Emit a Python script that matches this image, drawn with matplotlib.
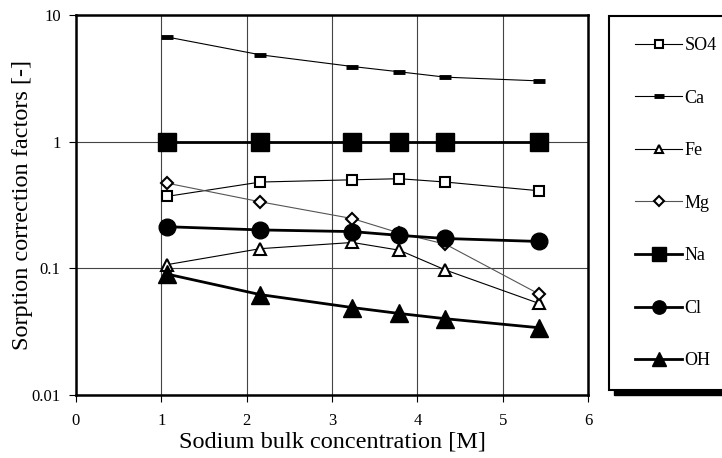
import matplotlib
matplotlib.use('Agg')
import matplotlib.pyplot as plt
from matplotlib.patches import Rectangle
from matplotlib.ticker import FixedLocator, NullLocator

plt.rcParams['font.family'] = 'Liberation Serif'

# data
conc = [1.07, 2.16, 3.24, 3.79, 4.33, 5.42]
so4 = [0.37, 0.48, 0.50, 0.51, 0.48, 0.41]
ca = [6.7, 4.85, 3.92, 3.56, 3.23, 3.02]
fe = [0.107, 0.143, 0.16, 0.139, 0.097, 0.053]
mg = [0.47, 0.335, 0.247, 0.19, 0.155, 0.063]
na = [1.0, 1.0, 1.0, 1.0, 1.0, 1.0]
cl = [0.213, 0.201, 0.195, 0.182, 0.172, 0.163]
oh = [0.09, 0.062, 0.049, 0.044, 0.040, 0.034]

fig = plt.figure(figsize=(7.22, 4.58), dpi=100)
ax = fig.add_axes([76/722, 1 - 395/458, 512/722, 380/458])

ax.plot(conc, so4, color='black', lw=0.8, marker='s', ms=7,
        mfc='white', mec='black', mew=1.5, label='SO4')
ax.plot(conc, ca, color='black', lw=0.8, marker='_', ms=9, mew=3.5,
        label='Ca')
ax.plot(conc, fe, color='black', lw=0.8, marker='^', ms=8,
        mfc='white', mec='black', mew=1.5, label='Fe')
ax.plot(conc, mg, color='#555555', lw=0.8, marker='D', ms=6,
        mfc='white', mec='black', mew=1.5, label='Mg')
ax.plot(conc, na, color='black', lw=2, marker='s', ms=13, label='Na')
ax.plot(conc, cl, color='black', lw=2, marker='o', ms=12, label='Cl')
ax.plot(conc, oh, color='black', lw=2, marker='^', ms=13, label='OH')

ax.set_yscale('log')
ax.set_ylim(0.01, 10)
ax.set_xlim(0, 6)
ax.yaxis.set_major_locator(FixedLocator([0.01, 0.1, 1, 10]))
ax.yaxis.set_minor_locator(NullLocator())
ax.set_yticklabels(['0.01', '0.1', '1', '10'])
ax.set_xticks(range(7))
ax.grid(True, color='#444444', lw=0.8)
ax.tick_params(axis='both', labelsize=12, direction='out', length=5,
               width=0.8)
ax.tick_params(axis='y', pad=6)
ax.tick_params(axis='x', pad=8)
for side in ['left', 'bottom', 'top', 'right']:
    ax.spines[side].set_linewidth(1.8)

ax.set_xlabel('Sodium bulk concentration [M]', fontsize=17.5, labelpad=2)
ax.set_ylabel('Sorption correction factors [-]', fontsize=17.5, labelpad=-1)

# legend box with drop shadow, running off the right edge like the original
fig.patches.append(Rectangle((614/722, 1 - 395/458), 0.2, 374/458,
                             transform=fig.transFigure, color='black',
                             zorder=-2))
fig.patches.append(Rectangle((609/722, 1 - 390/458), 0.2, 374/458,
                             transform=fig.transFigure, facecolor='white',
                             edgecolor='black', lw=1.5, zorder=-1))
ax.legend(loc='upper left', bbox_to_anchor=(626/722, 1 - 28/458),
          bbox_transform=fig.transFigure, frameon=False, fontsize=13,
          handlelength=2.6, handletextpad=0.15, labelspacing=1.97,
          markerscale=0.8, borderpad=0)

fig.savefig('out.png', dpi=100)
